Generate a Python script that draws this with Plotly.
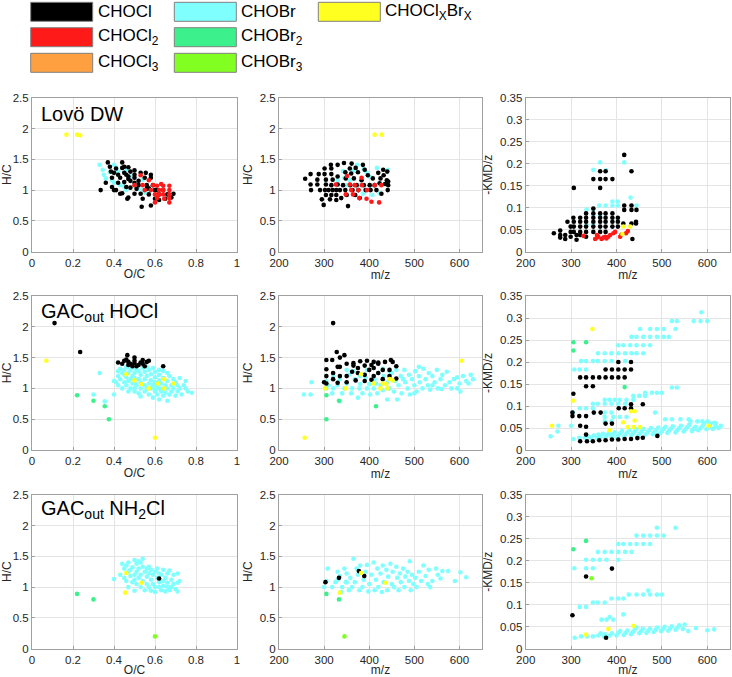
import plotly.graph_objects as go

# ---------------- colours / classes ----------------
CLASSES = ["CHOBr", "CHOCl", "CHOCl2", "CHOCl3", "CHOBr2", "CHOBr3", "CHOClxBrx"]
COLORS = {
    "CHOCl": "#000000",
    "CHOCl2": "#ff1a1a",
    "CHOCl3": "#ffa040",
    "CHOBr": "#80ffff",
    "CHOBr2": "#3cf08c",
    "CHOBr3": "#80ff20",
    "CHOClxBrx": "#ffff20",
}
legend_labels = ["CHOCl", "CHOCl<sub>2</sub>", "CHOCl<sub>3</sub>", "CHOBr",
                 "CHOBr<sub>2</sub>", "CHOBr<sub>3</sub>", "CHOCl<sub>X</sub>Br<sub>X</sub>"]
legend_keys = ["CHOCl", "CHOCl2", "CHOCl3", "CHOBr", "CHOBr2", "CHOBr3", "CHOClxBrx"]

# ---------------- Lovö DW ----------------
lovo_vk_CHOCl = [(0.335,1.00),(0.36,1.12),(0.37,1.45),(0.38,1.38),(0.385,1.30),(0.39,1.20),(0.39,1.05),(0.40,1.00),
    (0.41,1.00),(0.41,1.35),(0.42,1.25),(0.42,1.12),(0.43,1.20),(0.43,0.94),(0.44,1.45),(0.44,1.36),(0.44,0.95),
    (0.45,1.28),(0.45,1.13),(0.46,1.25),(0.46,1.05),(0.465,0.86),(0.47,1.37),(0.47,0.88),(0.47,1.22),(0.48,1.30),
    (0.48,1.15),(0.48,1.04),(0.50,1.32),(0.50,1.25),(0.50,1.20),(0.50,1.12),(0.50,0.94),(0.51,1.02),(0.52,1.08),
    (0.53,1.28),(0.53,0.94),(0.535,0.73),(0.54,0.86),(0.55,1.20),(0.555,1.28),(0.56,1.08),(0.56,1.02),(0.57,1.03),
    (0.57,0.93),(0.58,1.25),(0.58,1.20),(0.58,0.75),(0.59,1.08),(0.60,1.00),(0.60,0.86),(0.61,1.00),(0.62,0.93),
    (0.62,0.84),(0.64,1.00),(0.65,0.86),(0.66,0.93),(0.69,0.94),(0.68,0.88),(0.45,1.38),(0.40,1.28),(0.47,1.18),(0.52,1.15)]
lovo_vk_CHOBr = [(0.33,1.41),(0.345,1.33),(0.35,1.25),(0.36,1.19),(0.38,1.29),(0.39,1.16),(0.40,1.41),(0.40,1.12),
    (0.41,1.37),(0.42,1.30),(0.43,1.08),(0.45,1.06),(0.46,1.32),(0.46,1.00),(0.48,1.22),(0.50,1.08),(0.52,1.02),
    (0.54,1.17),(0.55,0.96),(0.57,0.95),(0.54,1.00)]
lovo_vk_CHOCl2 = [(0.50,1.08),(0.53,1.24),(0.54,1.08),(0.55,1.00),(0.57,1.16),(0.58,1.00),(0.59,1.08),(0.60,0.93),
    (0.60,0.80),(0.61,0.87),(0.61,1.07),(0.62,1.00),(0.63,1.10),(0.64,1.00),(0.64,0.93),(0.645,0.86),(0.67,1.07),
    (0.67,1.00),(0.67,0.93),(0.67,0.87),(0.67,0.80),(0.64,1.07),(0.62,0.93)]
lovo_vk_CHOClxBrx = [(0.168,1.90),(0.22,1.90),(0.235,1.89)]

lovo_mz_CHOCl = [(258,1.185),(270,1.26),(270,1.09),(271,1.00),(285,1.17),(285,1.09),(288,1.26),(291,1.00),(295,0.85),
    (299,0.76),(301,1.35),(301,1.26),(304,1.17),(304,1.09),(302,1.00),(304,0.92),(310,1.00),(313,0.85),(315,1.41),
    (316,1.35),(316,1.26),(319,1.17),(316,1.08),(319,1.00),(316,0.92),(327,1.00),(327,0.92),(327,0.84),(330,1.41),
    (330,1.22),(330,1.09),(335,1.00),(338,0.87),(342,1.08),(344,1.44),(347,1.00),(347,1.29),(348,1.19),(350,0.92),
    (353,0.74),(357,1.35),(358,1.08),(360,1.27),(361,1.43),(363,1.00),(366,1.19),(369,0.92),(370,1.36),(372,1.08),
    (375,1.29),(376,1.00),(379,0.87),(383,1.16),(386,1.41),(388,1.08),(390,1.33),(392,1.00),(397,1.24),(401,1.08),
    (403,1.00),(408,1.19),(412,1.08),(416,1.00),(420,1.28),(423,1.11),(425,1.19),(427,0.94),(431,1.33),(432,1.24),
    (435,1.10),(439,1.16),(440,1.30),(442,1.08),(441,1.00),(442,1.14)]
lovo_mz_CHOBr = [(342,1.31),(348,1.28),(350,1.08),(357,1.16),(364,1.31),(373,1.41),(379,1.08),(388,1.34),(394,1.29),
    (400,1.22),(403,1.07),(407,0.92),(417,1.36),(423,0.95),(442,1.33),(386,0.94),(368,1.08),(330,1.16),(345,1.20)]
lovo_mz_CHOCl2 = [(326,1.09),(351,1.23),(348,0.93),(357,1.09),(364,0.93),(368,1.08),(376,1.00),(378,0.87),(384,1.08),
    (394,0.86),(405,0.81),(412,1.08),(422,0.80),(427,1.08),(383,1.20),(360,1.00),(395,1.00)]
lovo_mz_CHOClxBrx = [(412,1.90),(428,1.90)]

lovo_kmd_CHOCl = [(262,0.042),(276,0.048),(276,0.038),(276,0.032),(287,0.038),(287,0.029),(292,0.068),(299,0.057),
    (299,0.045),(299,0.034),(305,0.077),(306,0.145),(306,0.068),(306,0.057),(306,0.045),(312,0.027),(312,0.038),
    (320,0.077),(320,0.068),(320,0.057),(320,0.045),(320,0.038),(333,0.087),(333,0.077),(333,0.068),(333,0.057),
    (333,0.045),(333,0.034),(349,0.165),(349,0.098),(349,0.087),(349,0.077),(349,0.068),(349,0.057),(349,0.045),
    (364,0.183),(364,0.165),(364,0.145),(364,0.087),(364,0.077),(364,0.068),(364,0.057),(364,0.045),(376,0.183),
    (376,0.165),(376,0.087),(376,0.077),(376,0.068),(376,0.057),(376,0.045),(391,0.165),(391,0.087),(391,0.077),
    (391,0.068),(391,0.057),(403,0.057),(403,0.077),(403,0.068),(417,0.220),(417,0.105),(417,0.095),(415,0.064),
    (433,0.183),(433,0.105),(433,0.095),(433,0.064),(435,0.029),(444,0.095),(443,0.068),(443,0.064)]
lovo_kmd_CHOBr = [(349,0.186),(364,0.203),(377,0.185),(417,0.203),(431,0.123),(334,0.096),(349,0.096),(362,0.105),
    (376,0.105),(391,0.114),(403,0.114),(391,0.105),(403,0.105),(334,0.061),(349,0.064),(376,0.068),(403,0.072),
    (444,0.105),(349,0.083),(364,0.080)]
lovo_kmd_CHOCl2 = [(327,0.036),(353,0.029),(357,0.032),(360,0.034),(367,0.029),(371,0.032),(375,0.034),(378,0.030),
    (382,0.034),(386,0.038),(393,0.042),(397,0.045),(408,0.034),(411,0.039),(421,0.042),(425,0.047),(357,0.038)]
lovo_kmd_CHOClxBrx = [(415,0.057),(430,0.057),(413,0.040)]

# ---------------- GAC out HOCl ----------------
hocl_vk_CHOCl = [(0.11,2.06),(0.235,1.59),(0.64,1.36),(0.42,1.42),(0.44,1.40),(0.45,1.45),(0.46,1.47),(0.465,1.54),
    (0.47,1.43),(0.47,1.38),(0.48,1.40),(0.50,1.50),(0.50,1.45),(0.50,1.41),(0.51,1.36),(0.53,1.42),(0.54,1.46),
    (0.54,1.40),(0.55,1.36),(0.56,1.43),(0.57,1.45),(0.52,1.38),(0.49,1.36)]
hocl_vk_CHOBr = [(0.33,1.25),(0.30,0.90),(0.355,0.79),(0.40,0.90),(0.40,1.12),(0.41,1.10),(0.42,1.05),(0.42,1.20),
    (0.43,1.15),(0.44,1.00),(0.44,1.25),(0.45,1.10),(0.45,1.30),(0.46,1.05),(0.46,1.18),(0.46,1.35),(0.47,0.95),
    (0.47,1.12),(0.47,1.25),(0.48,1.00),(0.48,1.30),(0.49,1.08),(0.49,1.20),(0.50,0.95),(0.50,1.00),(0.50,1.10),
    (0.50,1.17),(0.50,1.25),(0.50,1.33),(0.51,1.05),(0.52,0.92),(0.52,1.15),(0.52,1.28),(0.53,0.87),(0.53,1.00),
    (0.53,1.10),(0.53,1.22),(0.54,1.33),(0.55,0.95),(0.55,1.05),(0.55,1.15),(0.55,1.27),(0.56,1.00),(0.56,1.20),
    (0.57,0.90),(0.57,1.08),(0.57,1.30),(0.58,1.00),(0.58,1.13),(0.58,1.23),(0.59,0.85),(0.59,1.05),(0.60,0.95),
    (0.60,1.00),(0.60,1.10),(0.60,1.18),(0.60,1.27),(0.61,0.90),(0.61,1.05),(0.62,0.82),(0.62,1.00),(0.62,1.13),
    (0.62,1.22),(0.63,0.95),(0.63,1.08),(0.64,0.88),(0.64,1.00),(0.64,1.17),(0.64,1.28),(0.65,0.93),(0.65,1.05),
    (0.66,0.80),(0.66,1.00),(0.66,1.12),(0.67,0.90),(0.67,1.20),(0.68,0.95),(0.68,1.05),(0.69,1.00),(0.69,1.15),
    (0.70,0.88),(0.70,1.10),(0.71,0.95),(0.71,1.05),(0.72,1.00),(0.72,1.17),(0.73,0.90),(0.74,1.05),(0.75,1.00),
    (0.75,1.12),(0.76,0.95),(0.78,0.93),(0.47,1.35),(0.43,1.32),(0.42,1.28),(0.45,1.22),(0.48,1.15),(0.51,1.30),
    (0.56,1.35),(0.59,1.33),(0.62,1.30),(0.66,1.25)]
hocl_vk_CHOBr2 = [(0.22,0.89),(0.30,0.80),(0.355,0.71),(0.375,0.50)]
hocl_vk_CHOClxBrx = [(0.07,1.45),(0.46,1.23),(0.50,1.13),(0.535,1.07),(0.57,1.00),(0.615,1.08),(0.645,1.15),
    (0.645,1.00),(0.69,1.08),(0.60,0.20)]

hocl_mz_CHOCl = [(320,2.06),(328,1.59),(345,1.54),(305,1.46),(318,1.46),(335,1.50),(305,1.31),(320,1.25),(335,1.35),
    (350,1.40),(365,1.41),(380,1.44),(395,1.45),(410,1.43),(420,1.42),(435,1.43),(448,1.46),(452,1.43),(460,1.36),
    (365,1.37),(375,1.33),(390,1.37),(405,1.38),(410,1.33),(420,1.40),(430,1.30),(445,1.30),(305,1.08),(320,1.15),
    (335,1.20),(350,1.20),(362,1.27),(375,1.25),(390,1.22),(400,1.30),(410,1.20),(420,1.25),(430,1.15),(445,1.20),
    (460,1.16),(330,1.09),(350,1.10),(370,1.13),(390,1.12),(405,1.14),(330,1.35),(300,1.10),(305,1.20)]
hocl_mz_CHOBr = [(255,0.90),(270,0.90),(272,1.10),(305,1.00),(305,1.12),(310,1.05),(318,0.92),(320,1.00),(320,1.20),
    (330,1.05),(335,0.79),(335,1.15),(340,0.92),(345,1.00),(350,1.08),(355,1.22),(360,0.92),(362,1.00),(368,1.15),
    (375,0.85),(378,1.00),(380,1.07),(385,0.92),(392,1.18),(395,1.00),(400,1.07),(402,0.90),(410,1.00),(412,1.15),
    (418,0.92),(420,1.25),(425,1.05),(430,0.97),(432,1.20),(440,0.82),(440,1.10),(445,1.00),(450,1.25),(455,0.95),
    (458,1.12),(462,0.82),(465,1.05),(470,1.20),(472,0.92),(478,1.30),(480,1.10),(485,1.00),(488,1.22),(490,0.90),
    (495,1.15),(500,1.05),(502,1.28),(505,0.95),(510,1.20),(512,1.10),(518,1.00),(520,1.32),(525,1.15),(530,1.05),
    (532,1.25),(535,0.98),(540,1.20),(545,1.10),(550,1.30),(552,1.00),(558,1.15),(562,1.22),(568,1.05),(572,1.27),
    (578,1.10),(582,1.00),(588,1.15),(595,1.18),(600,1.08),(602,0.95),(608,1.20),(615,1.12),(620,1.08),(625,1.22),
    (630,1.15),(350,1.30),(365,1.28),(395,1.30),(430,1.32),(460,1.30),(510,1.35),(540,1.05),(560,0.99),(595,1.00),
    (475,1.15),(445,1.28),(380,1.20),(415,1.08),(500,0.92)]
hocl_mz_CHOBr2 = [(305,0.89),(305,0.50),(333,0.80),(415,0.71)]
hocl_mz_CHOClxBrx = [(257,0.20),(302,1.00),(348,1.00),(382,1.23),(410,1.08),(425,1.00),(430,1.08),(438,1.07),
    (440,1.00),(445,1.15),(452,1.13),(605,1.45)]

hocl_kmd_CHOCl = [(305,0.128),(303,0.085),(303,0.077),(318,0.077),(333,0.077),(320,0.055),(333,0.053),(333,0.035),
    (320,0.020),(335,0.020),(348,0.020),(362,0.022),(376,0.022),(390,0.024),(404,0.024),(418,0.025),(432,0.025),
    (446,0.027),(458,0.028),(490,0.032),(350,0.085),(365,0.085),(376,0.060),(390,0.060),(405,0.095),(418,0.095),
    (432,0.095),(432,0.104),(458,0.104),(333,0.145),(348,0.145),(320,0.165),(333,0.165),(348,0.165),(362,0.165),
    (376,0.165),(390,0.165),(404,0.165),(418,0.165),(376,0.183),(390,0.183),(404,0.183),(418,0.183),(432,0.183),
    (404,0.200),(432,0.200)]
hocl_kmd_CHOBr = [(587,0.313),(522,0.293),(533,0.293),(570,0.293),(585,0.293),(600,0.293),(452,0.275),(474,0.275),
    (489,0.275),(504,0.275),(530,0.275),(433,0.257),(444,0.257),(459,0.257),(474,0.257),(489,0.257),(504,0.257),
    (515,0.257),(404,0.238),(415,0.238),(430,0.238),(444,0.238),(459,0.238),(474,0.238),(359,0.220),(374,0.220),
    (389,0.220),(404,0.220),(419,0.220),(433,0.220),(444,0.220),(459,0.220),(322,0.202),(333,0.202),(348,0.202),
    (359,0.202),(374,0.202),(389,0.202),(419,0.202),(307,0.183),(319,0.183),(333,0.183),(522,0.142),(533,0.142),
    (463,0.130),(478,0.130),(489,0.130),(500,0.130),(437,0.123),(450,0.123),(463,0.123),(374,0.114),(385,0.114),
    (396,0.114),(407,0.114),(422,0.114),(437,0.114),(348,0.105),(359,0.105),(374,0.105),(389,0.105),(404,0.105),
    (419,0.105),(319,0.095),(333,0.095),(348,0.095),(304,0.085),(374,0.085),(389,0.085),(485,0.085),(374,0.075),
    (393,0.075),(407,0.075),(422,0.075),(507,0.070),(522,0.070),(541,0.070),(559,0.070),(374,0.065),(389,0.065),
    (563,0.065),(578,0.065),(589,0.065),(600,0.065),(615,0.062),(593,0.060),(607,0.060),(619,0.060),
    (255,0.031),(270,0.042),(272,0.055),(300,0.055),(305,0.025),(318,0.028),(330,0.028),(340,0.030),(345,0.025),
    (350,0.033),(357,0.027),(360,0.035),(365,0.030),(370,0.037),(375,0.028),(378,0.033),(383,0.038),(388,0.030),
    (392,0.035),(396,0.040),(400,0.028),(404,0.033),(408,0.038),(412,0.043),(416,0.030),(420,0.035),(424,0.040),
    (428,0.045),(432,0.032),(436,0.037),(440,0.042),(444,0.047),(448,0.033),(452,0.038),(456,0.043),(460,0.048),
    (464,0.035),(468,0.040),(472,0.045),(476,0.050),(480,0.036),(484,0.041),(488,0.046),(492,0.051),(496,0.038),
    (500,0.043),(504,0.048),(508,0.053),(512,0.039),(516,0.044),(520,0.049),(524,0.054),(530,0.040),(534,0.045),
    (538,0.050),(542,0.055),(548,0.042),(552,0.047),(556,0.052),(560,0.057),(566,0.043),(570,0.048),(574,0.053),
    (580,0.045),(585,0.050),(590,0.055),(598,0.047),(605,0.052),(612,0.048),(618,0.053),(625,0.050),(630,0.055)]
hocl_kmd_CHOBr2 = [(305,0.245),(305,0.226),(333,0.245),(418,0.143)]
hocl_kmd_CHOClxBrx = [(258,0.055),(347,0.275),(304,0.112),(432,0.088),(440,0.088),(415,0.063),(440,0.067),
    (385,0.045),(425,0.052),(438,0.052),(452,0.052),(603,0.055)]

# ---------------- GAC out NH2Cl ----------------
nh2cl_vk_CHOBr = [(0.40,1.13),(0.43,1.20),(0.44,1.38),(0.45,1.30),(0.45,1.15),(0.46,1.35),(0.46,1.10),(0.47,1.25),
    (0.47,1.00),(0.48,1.28),(0.48,1.18),(0.49,1.32),(0.49,1.08),(0.50,1.44),(0.50,1.20),(0.50,1.12),(0.50,0.94),
    (0.51,1.38),(0.51,1.25),(0.51,1.05),(0.52,1.30),(0.52,1.15),(0.53,1.40),(0.53,1.20),(0.53,1.00),(0.54,1.46),
    (0.54,1.33),(0.54,1.10),(0.55,1.25),(0.55,0.95),(0.56,1.30),(0.56,1.17),(0.56,1.05),(0.57,1.22),(0.57,1.00),
    (0.58,1.28),(0.58,1.12),(0.58,0.94),(0.59,1.20),(0.59,1.05),(0.60,1.25),(0.60,1.00),(0.60,0.92),(0.61,1.30),
    (0.61,1.15),(0.62,1.08),(0.62,1.00),(0.63,1.20),(0.63,0.95),(0.64,1.28),(0.64,1.10),(0.64,1.02),(0.65,1.15),
    (0.65,0.93),(0.66,1.22),(0.66,1.07),(0.66,1.00),(0.67,1.27),(0.67,0.95),(0.68,1.12),(0.68,1.00),(0.69,1.20),
    (0.69,1.05),(0.70,0.97),(0.71,1.22),(0.71,1.07),(0.71,0.93),(0.72,1.10),(0.47,1.40),(0.52,1.42),(0.57,1.33),
    (0.62,1.22)]
nh2cl_vk_CHOCl = [(0.62,1.14)]
nh2cl_vk_CHOBr2 = [(0.22,0.89),(0.30,0.80)]
nh2cl_vk_CHOBr3 = [(0.60,0.20)]
nh2cl_vk_CHOClxBrx = [(0.46,1.23),(0.535,1.07),(0.455,0.91)]

nh2cl_mz_CHOBr = [(305,1.10),(308,1.30),(318,1.00),(325,1.08),(330,1.25),(335,1.18),(338,0.92),(340,1.00),(345,1.30),
    (348,1.08),(350,1.22),(355,0.95),(358,1.15),(362,1.00),(365,1.46),(368,1.08),(372,1.30),(375,1.20),(378,0.95),
    (380,1.35),(385,1.00),(388,1.12),(392,1.25),(395,1.36),(398,0.93),(400,1.05),(405,1.20),(410,1.40),(412,0.95),
    (415,1.12),(418,1.30),(420,1.00),(425,1.22),(428,0.92),(430,1.35),(432,1.08),(438,1.28),(440,0.95),(442,1.17),
    (447,1.38),(450,1.05),(452,1.25),(455,1.00),(460,1.33),(462,1.15),(465,0.95),(468,1.22),(470,1.08),(475,1.30),
    (478,1.00),(480,1.17),(485,1.25),(488,1.10),(490,1.42),(492,0.95),(495,1.20),(498,1.05),(502,1.15),(505,1.00),
    (510,1.25),(515,1.10),(520,1.35),(525,1.18),(530,1.05),(532,1.28),(535,1.00),(540,1.10),(548,1.30),(552,1.20),
    (558,1.14),(562,1.26),(575,1.26),(590,1.10),(602,1.24),(615,1.16),(330,1.12),(350,1.08),(300,1.00)]
nh2cl_mz_CHOCl = [(303,1.08),(333,1.15),(377,1.26),(389,1.18)]
nh2cl_mz_CHOBr2 = [(305,0.89),(333,0.80)]
nh2cl_mz_CHOBr3 = [(345,0.20)]
nh2cl_mz_CHOClxBrx = [(335,0.91),(382,1.23),(437,1.07)]

nh2cl_kmd_CHOBr = [(489,0.275),(530,0.275),(444,0.257),(459,0.257),(474,0.257),(489,0.257),(504,0.257),
    (404,0.238),(415,0.238),(430,0.238),(444,0.238),(459,0.238),(474,0.238),(359,0.220),(374,0.220),(389,0.220),
    (404,0.220),(419,0.220),(433,0.220),(333,0.202),(348,0.202),(363,0.202),(378,0.202),(404,0.202),(307,0.183),
    (333,0.183),(348,0.183),(427,0.123),(444,0.123),(459,0.123),(474,0.123),(489,0.123),(500,0.123),(470,0.132),
    (389,0.114),(404,0.114),(415,0.114),(348,0.105),(359,0.105),(374,0.105),(319,0.095),(333,0.095),(415,0.078),
    (385,0.072),(367,0.066),(378,0.066),(393,0.066),
    (308,0.025),(322,0.028),(335,0.028),(348,0.028),(360,0.030),(365,0.035),(372,0.028),(375,0.033),(385,0.030),
    (390,0.035),(400,0.030),(404,0.036),(408,0.040),(416,0.031),(420,0.036),(424,0.041),(432,0.033),(436,0.038),
    (440,0.043),(444,0.048),(450,0.035),(454,0.040),(458,0.045),(466,0.036),(470,0.041),(474,0.046),(482,0.038),
    (486,0.043),(490,0.048),(498,0.040),(502,0.045),(506,0.050),(514,0.041),(518,0.046),(522,0.051),(530,0.043),
    (534,0.048),(538,0.053),(546,0.045),(550,0.055),(558,0.040),(575,0.047),(600,0.042),(615,0.044)]
nh2cl_kmd_CHOCl = [(303,0.076),(333,0.164),(390,0.182),(377,0.025)]
nh2cl_kmd_CHOBr2 = [(305,0.226),(333,0.245)]
nh2cl_kmd_CHOBr3 = [(345,0.160)]
nh2cl_kmd_CHOClxBrx = [(333,0.032),(382,0.045),(438,0.052)]

panel_titles = ["Lovö DW", "GAC<sub>out</sub> HOCl", "GAC<sub>out</sub> NH<sub>2</sub>Cl"]

panels = [
    {"CHOCl": lovo_vk_CHOCl, "CHOBr": lovo_vk_CHOBr, "CHOCl2": lovo_vk_CHOCl2, "CHOClxBrx": lovo_vk_CHOClxBrx},
    {"CHOCl": lovo_mz_CHOCl, "CHOBr": lovo_mz_CHOBr, "CHOCl2": lovo_mz_CHOCl2, "CHOClxBrx": lovo_mz_CHOClxBrx},
    {"CHOCl": lovo_kmd_CHOCl, "CHOBr": lovo_kmd_CHOBr, "CHOCl2": lovo_kmd_CHOCl2, "CHOClxBrx": lovo_kmd_CHOClxBrx},
    {"CHOCl": hocl_vk_CHOCl, "CHOBr": hocl_vk_CHOBr, "CHOBr2": hocl_vk_CHOBr2, "CHOClxBrx": hocl_vk_CHOClxBrx},
    {"CHOCl": hocl_mz_CHOCl, "CHOBr": hocl_mz_CHOBr, "CHOBr2": hocl_mz_CHOBr2, "CHOClxBrx": hocl_mz_CHOClxBrx},
    {"CHOCl": hocl_kmd_CHOCl, "CHOBr": hocl_kmd_CHOBr, "CHOBr2": hocl_kmd_CHOBr2, "CHOClxBrx": hocl_kmd_CHOClxBrx},
    {"CHOCl": nh2cl_vk_CHOCl, "CHOBr": nh2cl_vk_CHOBr, "CHOBr2": nh2cl_vk_CHOBr2, "CHOBr3": nh2cl_vk_CHOBr3,
     "CHOClxBrx": nh2cl_vk_CHOClxBrx},
    {"CHOCl": nh2cl_mz_CHOCl, "CHOBr": nh2cl_mz_CHOBr, "CHOBr2": nh2cl_mz_CHOBr2, "CHOBr3": nh2cl_mz_CHOBr3,
     "CHOClxBrx": nh2cl_mz_CHOClxBrx},
    {"CHOCl": nh2cl_kmd_CHOCl, "CHOBr": nh2cl_kmd_CHOBr, "CHOBr2": nh2cl_kmd_CHOBr2, "CHOBr3": nh2cl_kmd_CHOBr3,
     "CHOClxBrx": nh2cl_kmd_CHOClxBrx},
]

# ---------------- layout geometry (pixels) ----------------
W, H = 732, 677
col_px = [(32, 237), (279, 482), (525.7, 730)]
row_px = [(97.7, 251.7), (296, 450), (494.7, 648.7)]

FONT = "Liberation Sans, Arial, Helvetica, sans-serif"
TICKC = "#262626"
AXC = "#a0a0a0"
GRIDC = "#e4e4e4"

fig = go.Figure()

for i, pdata in enumerate(panels):
    r, c = divmod(i, 3)
    ax = "" if i == 0 else str(i + 1)
    for cls in CLASSES:
        if cls not in pdata:
            continue
        pts = pdata[cls]
        fig.add_trace(go.Scatter(
            x=[p[0] for p in pts], y=[p[1] for p in pts], mode="markers",
            marker=dict(size=4.6, color=COLORS[cls], line=dict(width=0)),
            xaxis="x" + ax, yaxis="y" + ax, showlegend=False, name=cls))

    x0, x1 = col_px[c]
    y0, y1 = row_px[r]
    common = dict(showline=True, mirror=True, linecolor=AXC, linewidth=1, ticks="inside", ticklen=3,
                  tickcolor=AXC, showgrid=True, gridcolor=GRIDC, gridwidth=1, zeroline=False,
                  automargin=False, tickfont=dict(family=FONT, size=11.5, color=TICKC))
    xa = dict(domain=[x0 / W, x1 / W], anchor="y" + ax,
              title=dict(font=dict(family=FONT, size=12, color=TICKC), standoff=2), **common)
    ya = dict(domain=[1 - y1 / H, 1 - y0 / H], anchor="x" + ax,
              title=dict(font=dict(family=FONT, size=12, color=TICKC), standoff=4), **common)
    if c == 0:
        xa.update(range=[0, 1], dtick=0.2, tick0=0, title_text="O/C")
    else:
        xa.update(range=[200, 650], dtick=100, tick0=200, title_text="m/z")
    if c == 2:
        ya.update(range=[0, 0.35], dtick=0.05, tick0=0, title_text="-KMD/z")
    else:
        ya.update(range=[0, 2.5], dtick=0.5, tick0=0, title_text="H/C")
    fig.layout["xaxis" + ax] = xa
    fig.layout["yaxis" + ax] = ya

# panel titles
title_y = [114, 312, 510]
for r in range(3):
    fig.add_annotation(x=39 / W, y=1 - title_y[r] / H, xref="paper", yref="paper", text=panel_titles[r],
                       showarrow=False, xanchor="left", yanchor="middle",
                       font=dict(family=FONT, size=20, color="#000000"))

# legend
leg_cols = [30.7, 174.3, 318.3]
leg_rows = [2.3, 27.7, 53.3]
leg_pos = [(0, 0), (0, 1), (0, 2), (1, 0), (1, 1), (1, 2), (2, 0)]
for key, lab, (cc, rr) in zip(legend_keys, legend_labels, leg_pos):
    lx = leg_cols[cc]
    ly = leg_rows[rr]
    fig.add_shape(type="rect", xref="paper", yref="paper",
                  x0=lx / W, x1=(lx + 62) / W, y0=1 - (ly + 19) / H, y1=1 - ly / H,
                  fillcolor=COLORS[key], line=dict(color="#808080", width=1))
    fig.add_annotation(x=(lx + 65) / W, y=1 - (ly + 9.5) / H, xref="paper", yref="paper", text=lab,
                       showarrow=False, xanchor="left", yanchor="middle",
                       font=dict(family=FONT, size=17, color="#000000"))

fig.update_layout(template="none", width=W, height=H, margin=dict(l=0, r=0, t=0, b=0, autoexpand=False),
                  plot_bgcolor="white", paper_bgcolor="white", showlegend=False, hovermode=False)

fig.write_html("out.html", include_mathjax=False, config={"displayModeBar": False, "staticPlot": True},
               post_script="document.body.style.margin='0px';document.body.style.overflow='hidden';")
